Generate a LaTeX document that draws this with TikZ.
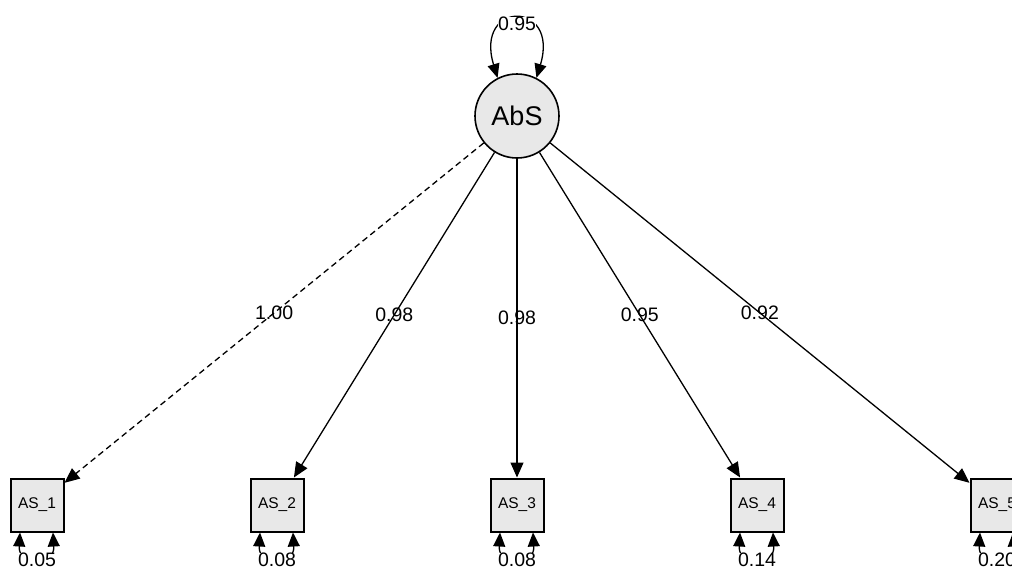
\documentclass[tikz,border=0pt]{standalone}
\usepackage{fontspec}
\setmainfont{Liberation Sans}
\usetikzlibrary{arrows.meta,calc}
\tikzset{
  latent/.style={circle,draw,line width=1.6pt,fill=black!9,minimum size=84pt,inner sep=0pt,font=\fontsize{27}{29}\selectfont},
  manifest/.style={rectangle,draw,line width=2pt,fill=black!9,minimum size=53pt,inner sep=0pt,font=\fontsize{15.5}{17}\selectfont},
  load/.style={line width=1.3pt,-{Triangle[length=15pt,width=13pt]}},
  dashload/.style={dash pattern=on 6pt off 4pt},
  var/.style={line width=1.3pt,{Triangle[length=14pt,width=12pt]}-{Triangle[length=14pt,width=12pt]}},
  est/.style={font=\fontsize{19.5}{21}\selectfont,inner sep=1pt},
  vest/.style={font=\fontsize{19.5}{21}\selectfont,fill=white,inner sep=0.5pt}
}
\begin{document}
\begin{tikzpicture}[x=1pt,y=-1pt]
\useasboundingbox (0,0) rectangle (1012,570);
\clip (0,0) rectangle (1012,570);
\node[latent] (abs) at (517,116) {AbS};
\node[manifest] (a1) at (37,505) {AS\_1};
\node[manifest] (a2) at (277,505) {AS\_2};
\node[manifest] (a3) at (517,505) {AS\_3};
\node[manifest] (a4) at (757,505) {AS\_4};
\node[manifest] (a5) at (997,505) {AS\_5};
\draw[load,dashload] (abs) -- node[est] {1.00} (a1);
\draw[load] (abs) -- node[est] {0.98} (a2);
\draw[load] (abs) -- node[est] {0.98} (a3);
\draw[load] (abs) -- node[est] {0.95} (a4);
\draw[load] (abs) -- node[est] {0.92} (a5);
% latent variance
\draw[var] (abs.117) .. controls (474,0) and (560,0) .. (abs.63);
\node[vest] (vabs) at (517,24) {0.95};
% residual variances
\foreach \n/\v in {a1/0.05,a2/0.08,a3/0.08,a4/0.14,a5/0.20}{
  \coordinate (\n l) at ($(\n.south)+(-17,0)$);
  \coordinate (\n r) at ($(\n.south)+(16,0)$);
  \draw[var] (\n l) .. controls ($(\n l)+(-2,35)$) and ($(\n r)+(2,35)$) .. (\n r);
  \node[vest] (\n v) at ($(\n.south)+(0,27.5)$) {\v};
}
\end{tikzpicture}
\end{document}
